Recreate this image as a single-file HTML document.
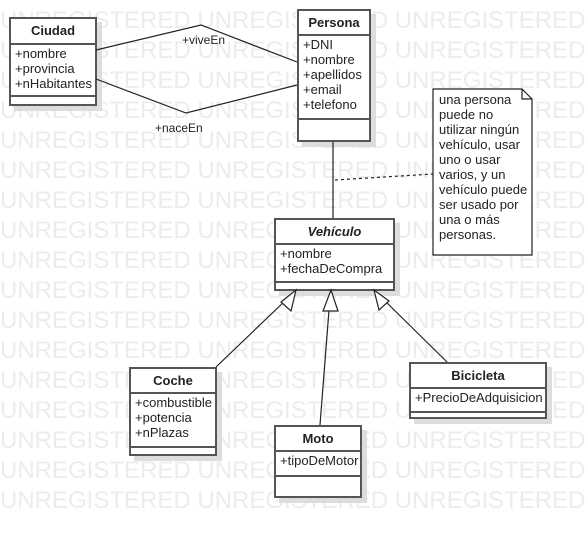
<!DOCTYPE html>
<html><head><meta charset="utf-8"><style>
body{margin:0;width:586px;height:538px;background:#fff;position:relative;overflow:hidden;font-family:"Liberation Sans",sans-serif}
.wm{position:absolute;left:0;white-space:nowrap;font-size:24px;color:#ececec;line-height:24px}
.box{position:absolute;border:2px solid #555;background:#fff;box-shadow:5px 5px 0 #ddd;box-sizing:border-box;font-size:13px;color:#222;z-index:1}
.h{font-weight:bold;text-align:center;border-bottom:2px solid #555;box-sizing:border-box}
.a{border-bottom:2px solid #555;padding-left:4px;line-height:15px;box-sizing:border-box;padding-top:1px}
svg{position:absolute;left:0;top:0;z-index:2}
.lbl{position:absolute;font-size:12px;color:#222;z-index:3}
.note{position:absolute;left:433px;top:89px;width:96px;font-size:13px;line-height:15px;color:#222;padding:3px 0 0 6px;box-sizing:border-box;z-index:3}
</style></head><body>
<div class="wm" style="top:9px">UNREGISTERED UNREGISTERED UNREGISTERED</div>
<div class="wm" style="top:39px">UNREGISTERED UNREGISTERED UNREGISTERED</div>
<div class="wm" style="top:69px">UNREGISTERED UNREGISTERED UNREGISTERED</div>
<div class="wm" style="top:99px">UNREGISTERED UNREGISTERED UNREGISTERED</div>
<div class="wm" style="top:129px">UNREGISTERED UNREGISTERED UNREGISTERED</div>
<div class="wm" style="top:159px">UNREGISTERED UNREGISTERED UNREGISTERED</div>
<div class="wm" style="top:189px">UNREGISTERED UNREGISTERED UNREGISTERED</div>
<div class="wm" style="top:219px">UNREGISTERED UNREGISTERED UNREGISTERED</div>
<div class="wm" style="top:249px">UNREGISTERED UNREGISTERED UNREGISTERED</div>
<div class="wm" style="top:279px">UNREGISTERED UNREGISTERED UNREGISTERED</div>
<div class="wm" style="top:309px">UNREGISTERED UNREGISTERED UNREGISTERED</div>
<div class="wm" style="top:339px">UNREGISTERED UNREGISTERED UNREGISTERED</div>
<div class="wm" style="top:369px">UNREGISTERED UNREGISTERED UNREGISTERED</div>
<div class="wm" style="top:399px">UNREGISTERED UNREGISTERED UNREGISTERED</div>
<div class="wm" style="top:429px">UNREGISTERED UNREGISTERED UNREGISTERED</div>
<div class="wm" style="top:459px">UNREGISTERED UNREGISTERED UNREGISTERED</div>
<div class="wm" style="top:489px">UNREGISTERED UNREGISTERED UNREGISTERED</div>

<div class="box" style="left:9px;top:17px;width:88px;height:89px"><div class="h" style="height:26px;line-height:24px">Ciudad</div><div class="a" style="height:52px">+nombre<br>+provincia<br>+nHabitantes</div></div>
<div class="box" style="left:297px;top:9px;width:74px;height:133px"><div class="h" style="height:25px;line-height:23px">Persona</div><div class="a" style="height:84px">+DNI<br>+nombre<br>+apellidos<br>+email<br>+telefono</div></div>
<div class="box" style="left:274px;top:218px;width:121px;height:73px"><div class="h" style="height:25px;line-height:23px;font-style:italic">Vehículo</div><div class="a" style="height:38px">+nombre<br>+fechaDeCompra</div></div>
<div class="box" style="left:129px;top:367px;width:88px;height:89px"><div class="h" style="height:25px;line-height:23px">Coche</div><div class="a" style="height:54px">+combustible<br>+potencia<br>+nPlazas</div></div>
<div class="box" style="left:274px;top:425px;width:88px;height:73px"><div class="h" style="height:25px;line-height:23px">Moto</div><div class="a" style="height:25px">+tipoDeMotor</div></div>
<div class="box" style="left:409px;top:362px;width:138px;height:57px"><div class="h" style="height:25px;line-height:23px">Bicicleta</div><div class="a" style="height:24px">+PrecioDeAdquisicion</div></div>

<svg width="586" height="538">
<g stroke="#222" stroke-width="1.2" fill="none">
<polyline points="96,50 201,25 297,62"/>
<polyline points="96,79 186,113 297,85"/>
<line x1="333" y1="142" x2="333" y2="218"/>
<line x1="335" y1="180" x2="433" y2="174" stroke-dasharray="3,3"/>
<line x1="216" y1="367" x2="287" y2="299"/>
<line x1="320" y1="425" x2="329" y2="310"/>
<line x1="447" y1="362" x2="383" y2="299"/>
</g>
<g stroke="#222" stroke-width="1.2" fill="#fff">
<polygon points="296,290 281,302 291,311"/>
<polygon points="331,290 323,311 338,311"/>
<polygon points="374,290 379,310 389,301"/>
<polygon points="433,89 522,89 532,99 532,255 433,255"/>
<polyline points="522,89 522,99 532,99" fill="none"/>
</g>
</svg>
<div class="lbl" style="left:182px;top:33px">+viveEn</div>
<div class="lbl" style="left:155px;top:121px">+naceEn</div>
<div class="note">una persona puede no utilizar ningún vehículo, usar uno o usar varios, y un vehículo puede ser usado por una o más personas.</div>
</body></html>
